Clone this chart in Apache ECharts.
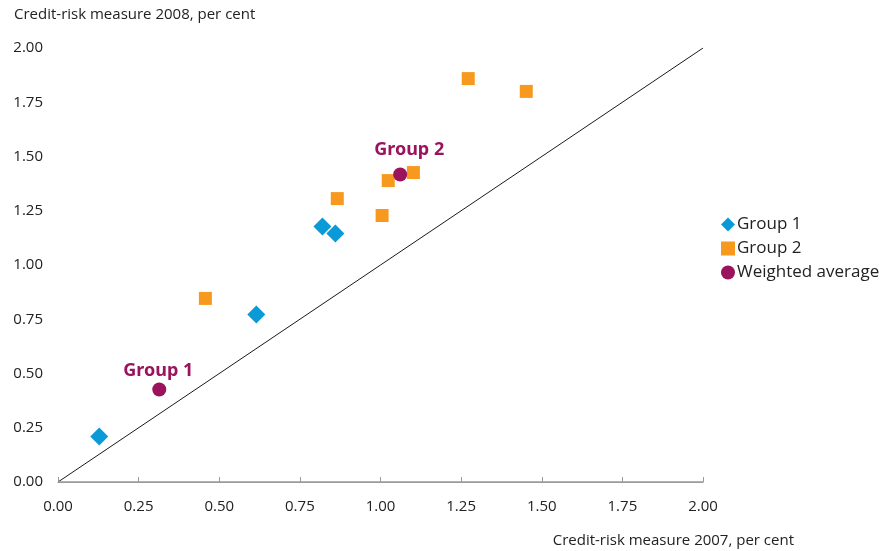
<!DOCTYPE html>
<html><head><meta charset="utf-8">
<script src="https://cdn.jsdelivr.net/npm/echarts@6/dist/echarts.min.js"></script>
<style>html,body{margin:0;padding:0;background:#fff}#c{width:888px;height:551px}</style>
</head><body><div id="c"></div>
<script>
const group1 = [[0.128,0.210],[0.615,0.772],[0.820,1.177],[0.860,1.145]];
const group2 = [[0.457,0.846],[0.866,1.306],[1.005,1.228],[1.024,1.389],[1.102,1.426],[1.272,1.859],[1.452,1.800]];
const weighted = [[0.314,0.426],[1.061,1.417]];
const weightedLabels = ['Group 1','Group 2'];
const diagonal = [[0,0],[2,2]];
const baseline = [[0,0],[2,0]];
const xTitle = 'Credit-risk measure 2007, per cent';
const yTitle = 'Credit-risk measure 2008, per cent';

const font = '"Open Sans", "Noto Sans", sans-serif';
const labelOffsets = [[-1,7],[9,1]];
const axisGrey = '#9a9a9a';
const chart = echarts.init(document.getElementById('c'));
chart.setOption({
  animation:false,
  grid:{left:58,right:185,top:48,bottom:69},
  title:[
    {text:yTitle,left:9,top:2,textStyle:{fontFamily:font,fontSize:15,fontWeight:'normal',color:'#222'}},
    {text:xTitle,right:89,top:528,textStyle:{fontFamily:font,fontSize:15,fontWeight:'normal',color:'#222'}}
  ],
  legend:{
    orient:'vertical',left:716,top:211,itemGap:7,itemWidth:14,itemHeight:14,
    data:['Group 1','Group 2','Weighted average'],
    textStyle:{fontFamily:font,fontSize:17,color:'#222',padding:[0,0,0,-3]}
  },
  xAxis:{
    type:'value',min:0,max:2,interval:0.25,position:'bottom',
    axisLine:{show:true,lineStyle:{color:axisGrey,width:1}},
    axisTick:{show:true,inside:true,length:5,lineStyle:{color:axisGrey,width:1}},
    splitLine:{show:false},
    axisLabel:{margin:17,fontSize:15,color:'#222',fontFamily:font,formatter:v=>v.toFixed(2)}
  },
  yAxis:{
    type:'value',min:0,max:2,interval:0.25,
    axisLine:{show:false},axisTick:{show:false},splitLine:{show:false},
    axisLabel:{margin:15,fontSize:15,color:'#222',fontFamily:font,formatter:v=>v.toFixed(2)}
  },
  series:[
    {type:'line',data:baseline,symbol:'none',lineStyle:{color:axisGrey,width:1.5},silent:true,clip:false,z:5},
    {type:'line',data:diagonal,symbol:'none',lineStyle:{color:'#1a1a1a',width:1},silent:true},
    {name:'Group 1',type:'scatter',data:group1,symbol:'diamond',symbolSize:18,itemStyle:{color:'#0a9ad7',opacity:1}},
    {name:'Group 2',type:'scatter',data:group2,symbol:'rect',symbolSize:13,itemStyle:{color:'#f7991e',opacity:1}},
    {name:'Weighted average',type:'scatter',symbol:'circle',symbolSize:14,itemStyle:{color:'#9b135d',opacity:1},
      data:weighted.map((p,i)=>({value:p,label:{show:true,position:'top',distance:10,offset:labelOffsets[i],
        formatter:weightedLabels[i],fontFamily:'"Noto Sans", sans-serif',fontSize:18,fontWeight:'bold',color:'#9b135d'}}))}
  ]
});
</script></body></html>
